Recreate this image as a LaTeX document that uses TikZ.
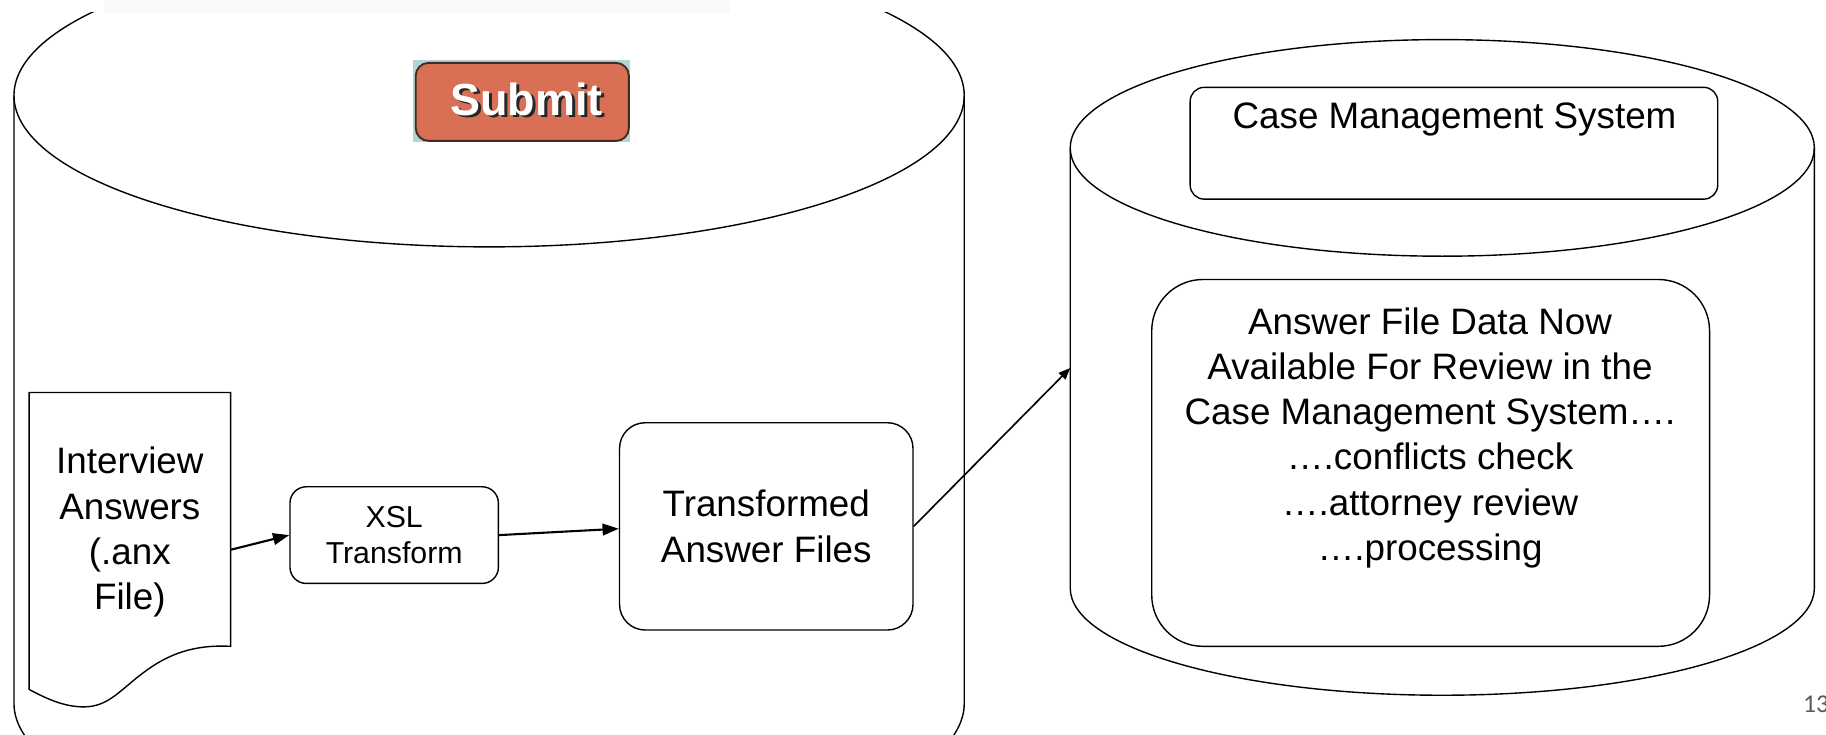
\documentclass[tikz,border=0pt]{standalone}
\usepackage{fontspec}
\setmainfont{Liberation Sans}
\newfontfamily\pagenofont{Carlito}
\usetikzlibrary{arrows.meta}

\definecolor{btnorange}{RGB}{217,112,86}
\definecolor{btnback}{RGB}{178,212,215}
\definecolor{btnedge}{RGB}{64,44,34}
\definecolor{pagegray}{RGB}{89,89,89}

\begin{document}
\begin{tikzpicture}[x=0.5pt, y=-0.5pt,
    outline/.style={draw, line width=0.6pt},
    rbox/.style={outline, rounded corners=#1, inner sep=0pt},
    bigtext/.style={align=center, font=\fontsize{15.8}{19.4}\selectfont},
    smalltext/.style={align=center, font=\fontsize{13}{15.5}\selectfont},
    btntext/.style={font=\fontsize{19.3}{20}\bfseries\selectfont, inner sep=0pt},
    flow/.style={-{Triangle[length=7pt, width=5pt]}, line width=0.9pt},
    thinflow/.style={-{Triangle[length=5pt, width=4pt]}, line width=0.7pt}]
    \useasboundingbox (0,0) rectangle (1568,631);
    \clip (0,0) rectangle (1568,631);

    \fill[gray!5] (89,0) rectangle (627,11);

   \begin{scope}
    \clip (0,11) rectangle (1568,631);
    \draw[outline] (420,82) ellipse [x radius=408, y radius=130];
    \draw[outline] (12,82) -- (12,604) arc[start angle=180, end angle=0, x radius=408, y radius=130] -- (828,82);
   \end{scope}

    \draw[outline] (1238.5,127) ellipse [x radius=319.5, y radius=93];
    \draw[outline] (919,127) -- (919,505) arc[start angle=180, end angle=0, x radius=319.5, y radius=92] -- (1558,127);
    \coordinate (cmsin) at (919,316);

    \node[fill=btnback, minimum width=93pt, minimum height=35.25pt, inner sep=0pt] (submitbg) at (448,86.75) {};
    \node[draw=btnedge, line width=0.8pt, fill=btnorange, rounded corners=5.5pt, minimum width=91.5pt, minimum height=33.5pt, inner sep=0pt] (submit) at (448.5,87.5) {};
    \node[btntext, text=black!85] (submitshadow) at (454.5,87) {Submit};
    \node[btntext, text=white] (submitlabel) at (452,85) {Submit};

    \draw[outline] (25,592) -- (25,337) -- (198,337) -- (198,555) .. controls (160,553) and (138,566) .. (120,580) .. controls (102,594) and (92,607) .. (72,607) .. controls (55,607) and (40,600) .. cycle;
    \node[bigtext, minimum width=86.5pt, inner sep=0pt] (ans) at (111.5,457) {Interview\\Answers\\(.anx\\File)};

    \node[rbox=7pt, smalltext, minimum width=89.5pt, minimum height=41.5pt] (xsl) at (338.5,459.5) {XSL\\Transform};
    \node[rbox=11pt, bigtext, minimum width=126pt, minimum height=89pt] (taf) at (658,452) {Transformed\\Answer Files};

    \node[rbox=6pt, minimum width=226.5pt, minimum height=48pt] (cms) at (1248.5,123) {};
    \node[bigtext] (cmstitle) at (1249,103) {Case Management System};

    \node[rbox=22pt, minimum width=239.5pt, minimum height=157.5pt] (review) at (1228.5,397.5) {};
    \node[bigtext] (reviewtext) at (1228,376) {Answer File Data Now\\Available For Review in the\\Case Management System….\\….conflicts check\\….attorney review\\….processing};

    \node[font=\pagenofont\fontsize{11}{13}\selectfont, text=pagegray, anchor=base west, inner sep=0pt] (pageno) at (1548,612) {13};

    \draw[flow] ([yshift=-7.5pt]ans.east) to (xsl.west);
    \draw[flow] (xsl.east) to ([yshift=-1pt]taf.west);
    \draw[thinflow] (taf.east) to (cmsin);
\end{tikzpicture}
\end{document}
